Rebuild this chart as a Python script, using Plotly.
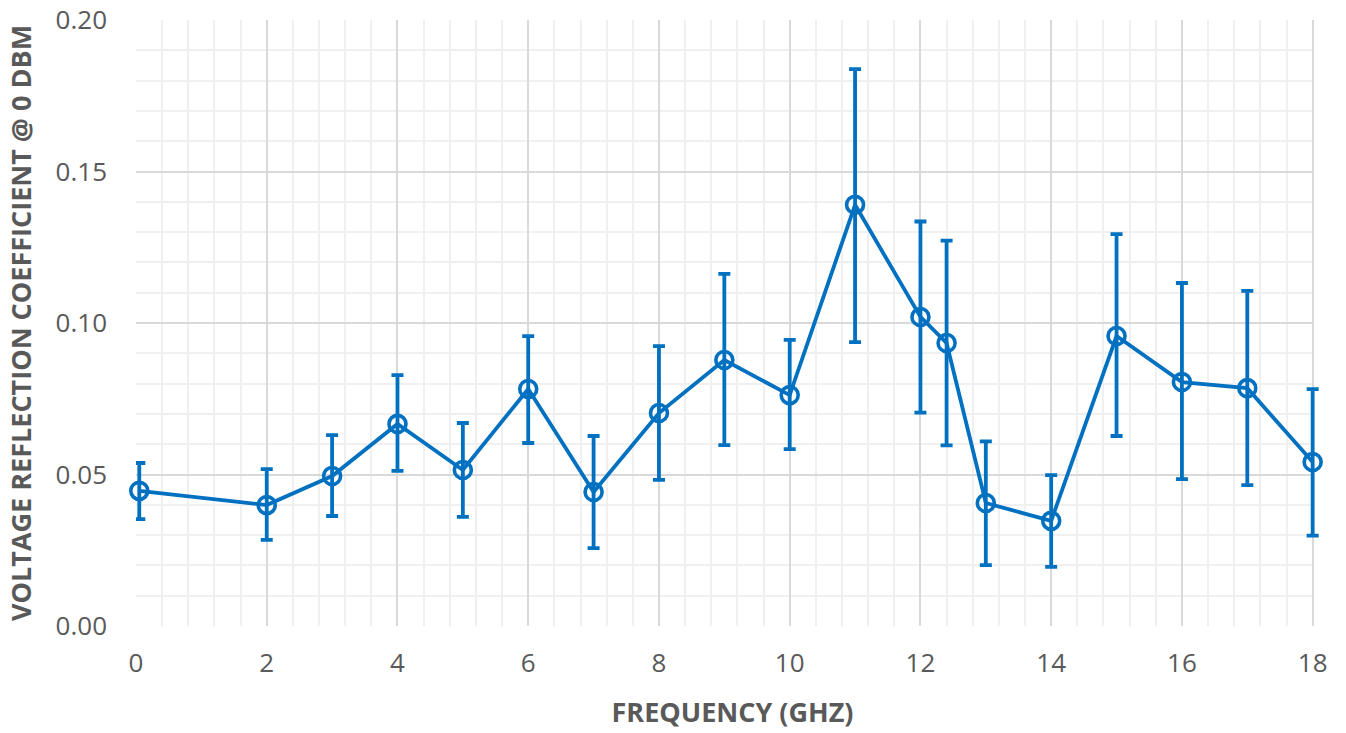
import plotly.graph_objects as go

freq = [0.05, 2, 3, 4, 5, 6, 7, 8, 9, 10, 11, 12, 12.4, 13, 14, 15, 16, 17, 18]
gamma = [0.0446, 0.0399, 0.0495, 0.0667, 0.0515, 0.0782, 0.0442, 0.0703, 0.0878, 0.0762,
         0.139, 0.102, 0.0934, 0.0406, 0.0347, 0.0957, 0.0805, 0.0785, 0.0541]
upper = [0.0538, 0.0518, 0.0630, 0.0828, 0.0670, 0.0957, 0.0627, 0.0924, 0.1162, 0.0944,
         0.1838, 0.1335, 0.1272, 0.0609, 0.0498, 0.1293, 0.1132, 0.1106, 0.0782]
lower = [0.0353, 0.0284, 0.0363, 0.0512, 0.0360, 0.0604, 0.0257, 0.0482, 0.0597, 0.0584,
         0.0937, 0.0704, 0.0596, 0.0201, 0.0195, 0.0627, 0.0485, 0.0465, 0.0298]

err_plus = [u - g for u, g in zip(upper, gamma)]
err_minus = [g - l for g, l in zip(gamma, lower)]

X_MAX = 18
X_PAD = 0.25  # extra room so the last error bar is not clipped; masked below

blue = "#0070C0"
fig = go.Figure()
fig.add_trace(go.Scatter(
    x=freq, y=gamma, mode="lines+markers",
    line=dict(color=blue, width=3.8),
    marker=dict(symbol="circle-open", size=17, color=blue, line=dict(width=3.6, color=blue)),
    error_y=dict(type="data", symmetric=False, array=err_plus, arrayminus=err_minus,
                 color=blue, thickness=3.8, width=6),
    cliponaxis=False,
    showlegend=False,
))

# white mask over the padding strip beyond the last x gridline (between grid and data)
fig.add_shape(type="rect", xref="x", yref="y", x0=X_MAX + 0.02, x1=X_MAX + X_PAD + 0.1,
              y0=-0.002, y1=0.202, fillcolor="white", line=dict(width=0), layer="between")

font_fam = "Open Sans, Liberation Sans, sans-serif"
px_per_unit = (1313 - 136) / X_MAX
right_edge = 136 + px_per_unit * (X_MAX + X_PAD)
fig.update_layout(
    width=1346, height=733,
    margin=dict(l=136, r=1346 - right_edge, t=20, b=107),
    paper_bgcolor="white", plot_bgcolor="white",
    font=dict(family=font_fam, color="#595959", size=20),
)
fig.add_annotation(
    text="<b>VOLTAGE REFLECTION COEFFICIENT @ 0 DBM</b>",
    xref="paper", yref="paper", x=0, y=0.5, xshift=-116, xanchor="center", yanchor="middle",
    textangle=-90, showarrow=False, font=dict(size=27, color="#595959"),
)
fig.update_xaxes(
    range=[0, X_MAX + X_PAD], tickmode="array", tickvals=list(range(0, 19, 2)),
    showgrid=True, gridcolor="#D9D9D9", gridwidth=1.5,
    minor=dict(tickmode="array", tickvals=[i * 0.4 for i in range(46)],
               showgrid=True, gridcolor="#F0F0F0", gridwidth=1.5),
    showline=False, zeroline=False, ticks="", automargin=False, ticklabelstandoff=19,
    tickfont=dict(size=26, color="#595959"),
    title=dict(text="<b>FREQUENCY (GHZ)</b>", font=dict(size=27, color="#595959"), standoff=24),
)
fig.update_yaxes(
    range=[0, 0.2], tickmode="linear", tick0=0, dtick=0.05, tickformat=".2f",
    showgrid=True, gridcolor="#D9D9D9", gridwidth=1.5,
    minor=dict(dtick=0.01, tick0=0, showgrid=True, gridcolor="#F0F0F0", gridwidth=1.5),
    showline=False, zeroline=False, ticks="", automargin=False, ticklabelstandoff=28,
    tickfont=dict(size=26, color="#595959"),
)
fig.write_html("out.html")
